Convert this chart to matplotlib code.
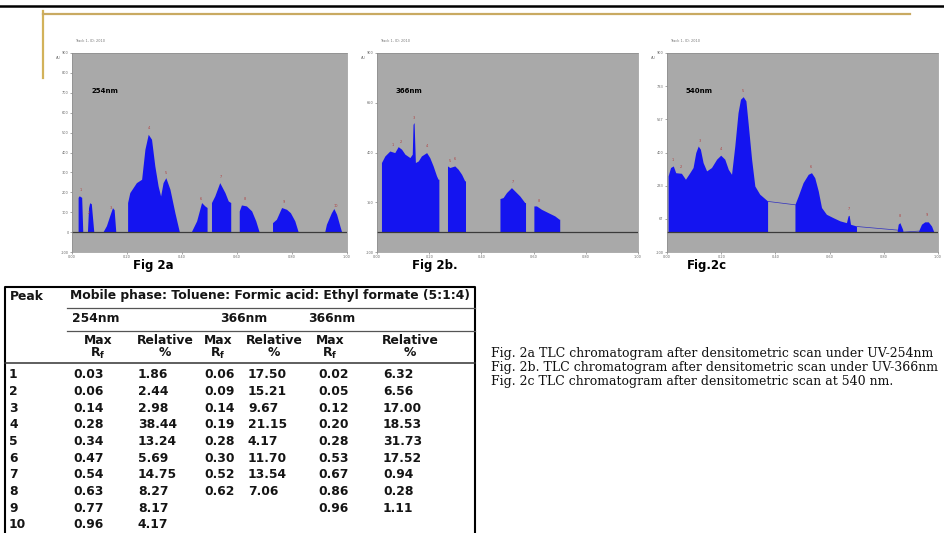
import numpy as np
import matplotlib.pyplot as plt

plt.rcParams['font.family'] = ['DejaVu Sans']
plt.rcParams['mathtext.fontset'] = 'dejavusans'

# densitogram outlines: (Rf, AU) points per peak area
scan_254 = [
    [(0.024, 0), (0.024, 172), (0.028, 180), (0.037, 172), (0.041, 0)],
    [(0.058, 0), (0.062, 120), (0.066, 145), (0.072, 140), (0.081, 0)],
    [(0.115, 0), (0.127, 30), (0.139, 80), (0.149, 120), (0.155, 110), (0.161, 0)],
    [(0.204, 0), (0.204, 146), (0.212, 196), (0.236, 246), (0.255, 263), (0.267, 414),
     (0.279, 489), (0.291, 464), (0.303, 330), (0.315, 229), (0.324, 179), (0.333, 246),
     (0.343, 271), (0.358, 213), (0.376, 95), (0.392, 0)],
    [(0.436, 0), (0.455, 54), (0.473, 146), (0.485, 129), (0.493, 121), (0.493, 0)],
    [(0.509, 0), (0.509, 146), (0.521, 179), (0.539, 246), (0.558, 196), (0.570, 154),
     (0.579, 146), (0.579, 0)],
    [(0.610, 0), (0.610, 104), (0.618, 134), (0.636, 129), (0.655, 104), (0.670, 54), (0.682, 0)],
    [(0.731, 0), (0.731, 45), (0.745, 62), (0.764, 121), (0.782, 112), (0.796, 95),
     (0.812, 54), (0.824, 0)],
    [(0.921, 0), (0.927, 37), (0.945, 95), (0.954, 116), (0.964, 87), (0.976, 28), (0.982, 0)],
]
scan_366 = [
    [(0.019, 0), (0.019, 347), (0.032, 380), (0.051, 405), (0.070, 397), (0.083, 427),
     (0.096, 414), (0.109, 389), (0.128, 372), (0.137, 389), (0.140, 539), (0.144, 548),
     (0.149, 347), (0.160, 355), (0.172, 380), (0.192, 397), (0.204, 372), (0.217, 330),
     (0.230, 280), (0.236, 263), (0.239, 263), (0.239, 0)],
    [(0.272, 0), (0.272, 330), (0.281, 322), (0.300, 330), (0.313, 313), (0.326, 288),
     (0.338, 255), (0.341, 255), (0.341, 0)],
    [(0.473, 0), (0.473, 166), (0.485, 171), (0.498, 196), (0.517, 221), (0.530, 204),
     (0.549, 179), (0.568, 146), (0.571, 146), (0.571, 0)],
    [(0.603, 0), (0.603, 129), (0.613, 129), (0.632, 112), (0.658, 95), (0.683, 79),
     (0.700, 62), (0.702, 62), (0.702, 0)],
]
scan_540 = [
    [(0.006, 0), (0.006, 280), (0.015, 322), (0.025, 330), (0.034, 296), (0.055, 293),
     (0.070, 263), (0.086, 296), (0.098, 322), (0.108, 397), (0.117, 430), (0.125, 414),
     (0.135, 347), (0.148, 305), (0.166, 322), (0.185, 364), (0.200, 384), (0.215, 364),
     (0.228, 313), (0.240, 288), (0.252, 430), (0.264, 598), (0.273, 665), (0.283, 678),
     (0.293, 657), (0.301, 548), (0.314, 364), (0.326, 229), (0.344, 188), (0.373, 154),
     (0.373, 0)],
    [(0.474, 0), (0.474, 137), (0.486, 179), (0.504, 246), (0.523, 288), (0.535, 296),
     (0.547, 271), (0.560, 204), (0.572, 121), (0.590, 87), (0.615, 70), (0.640, 54),
     (0.664, 45), (0.670, 79), (0.674, 82), (0.679, 37), (0.701, 28), (0.701, 0)],
    [(0.851, 0), (0.855, 37), (0.861, 45), (0.871, 12), (0.873, 0)],
    [(0.929, 0), (0.941, 37), (0.953, 49), (0.966, 49), (0.978, 28), (0.986, 0)],
]
trace_540 = [[(0.373, 154), (0.474, 137)], [(0.701, 28), (0.851, 10)], [(0.873, 0), (0.929, 5)]]

# table values
peak_no = ['1', '2', '3', '4', '5', '6', '7', '8', '9', '10']
rf_254 = [0.03, 0.06, 0.14, 0.28, 0.34, 0.47, 0.54, 0.63, 0.77, 0.96]
pct_254 = ['1.86', '2.44', '2.98', '38.44', '13.24', '5.69', '14.75', '8.27', '8.17', '4.17']
rf_366 = [0.06, 0.09, 0.14, 0.19, 0.28, 0.30, 0.52, 0.62]
pct_366 = ['17.50', '15.21', '9.67', '21.15', '4.17', '11.70', '13.54', '7.06']
rf_540 = [0.02, 0.05, 0.12, 0.20, 0.28, 0.53, 0.67, 0.86, 0.96]
pct_540 = ['6.32', '6.56', '17.00', '18.53', '31.73', '17.52', '0.94', '0.28', '1.11']

captions = ['Fig. 2a TLC chromatogram after densitometric scan under UV-254nm',
            'Fig. 2b. TLC chromatogram after densitometric scan under UV-366nm',
            'Fig. 2c TLC chromatogram after densitometric scan at 540 nm.']

W, H = 944, 533
fig = plt.figure(figsize=(W / 100, H / 100), dpi=100)


def px_axes(x0, y0, x1, y1):
    return fig.add_axes([x0 / W, 1 - y1 / H, (x1 - x0) / W, (y1 - y0) / H])


def top_at(segs, r):
    for s in segs:
        xs = [p[0] for p in s]
        ys = [p[1] for p in s]
        if xs[0] <= r <= xs[-1]:
            return np.interp(r, xs, ys)
    return 0


panels = [
    (72, 347, scan_254, rf_254, '254nm', [-100, 0, 100, 200, 300, 400, 500, 600, 700, 800, 900], 'Fig 2a', 153),
    (377, 638, scan_366, rf_366, '366nm', [-100, 150, 400, 650, 900], 'Fig 2b.', 435),
    (667, 938, scan_540, rf_540, '540nm', [-100, 67, 233, 400, 567, 733, 900], 'Fig.2c', 707),
]

for x0, x1, segs, rfs, nm, yt, flab, fx in panels:
    ax = px_axes(x0, 53, x1, 252)
    ax.set_facecolor('#a9a9a9')
    ax.set_xlim(0, 1)
    ax.set_ylim(-100, 900)
    for s in segs:
        xs, ys = zip(*s)
        ax.fill(xs, ys, color='#1414f0', lw=0)
    if nm == '540nm':
        for t in trace_540:
            xs, ys = zip(*t)
            ax.plot(xs, ys, color='#3030c0', lw=0.5)
    ax.axhline(0, color='#3a3a3a', lw=0.9)
    for i, r in enumerate(rfs):
        ax.text(r, top_at(segs, r) + 25, str(i + 1), fontsize=2.5, color='#b04040',
                ha='center', va='bottom')
    ax.set_xticks(np.arange(0, 1.01, 0.2))
    ax.set_xticklabels(['%.2f' % v for v in np.arange(0, 1.01, 0.2)])
    ax.set_yticks(yt)
    ax.set_yticklabels([str(v) for v in yt])
    ax.tick_params(labelsize=2.5, length=1.5, width=0.4, colors='#666666', pad=1)
    for sp in ax.spines.values():
        sp.set_color('#8c8c8c')
        sp.set_linewidth(0.5)
    ax.text(0.07, 0.81, nm, transform=ax.transAxes, fontsize=5, weight='bold', va='center')
    ax.text(0.01, 1.05, 'Track 1, ID: 2010', transform=ax.transAxes, fontsize=2.5,
            color='#777777', va='bottom')
    ax.text(-0.06, 0.97, 'AU', transform=ax.transAxes, fontsize=2.5, color='#777777')

# overlay in pixel coordinates
bg = px_axes(0, 0, W, H)
bg.set_xlim(0, W)
bg.set_ylim(H, 0)
bg.axis('off')
bg.set_zorder(10)

bg.plot([0, W], [6, 6], color='black', lw=1.8)
bg.plot([43, 43], [11, 78], color='#d2b25a', lw=1.6)
bg.plot([43, 910], [14, 14], color='#c9aa62', lw=1.6)

for x0, x1, segs, rfs, nm, yt, flab, fx in panels:
    bg.text(fx, 266, flab, fontsize=8.5, weight='bold', ha='center', va='center')

# table
tb = dict(fontsize=8.9, weight='bold', va='center', color='#151515')
bg.plot([5, 5, 475, 475], [540, 287, 287, 540], color='black', lw=1.5)
bg.plot([67, 475], [308, 308], color='#555555', lw=0.9)
bg.plot([67, 475], [331, 331], color='#555555', lw=0.9)
bg.plot([5, 475], [363, 363], color='#333333', lw=1.1)
bg.text(10, 296, 'Peak', ha='left', **tb)
bg.text(70, 296, 'Mobile phase: Toluene: Formic acid: Ethyl formate (5:1:4)', ha='left', **tb)
for cx, lab in [(96, '254nm'), (244, '366nm'), (332, '366nm')]:
    bg.text(cx, 318, lab, ha='center', **tb)
for cx in [98, 218, 330]:
    bg.text(cx, 340, 'Max', ha='center', **tb)
    bg.text(cx, 353, r'$\mathbf{R_f}$', ha='center', **tb)
for cx in [165, 274, 410]:
    bg.text(cx, 340, 'Relative', ha='center', **tb)
    bg.text(cx, 353, '%', ha='center', **tb)

cols = [(73, ['%.2f' % v for v in rf_254]), (138, pct_254),
        (204, ['%.2f' % v for v in rf_366]), (248, pct_366),
        (318, ['%.2f' % v for v in rf_540]), (383, pct_540)]
for i, p in enumerate(peak_no):
    y = 375 + i * 16.65
    bg.text(9, y, p, ha='left', **tb)
for cx, vals in cols:
    for i, v in enumerate(vals):
        bg.text(cx, 375 + i * 16.65, v, ha='left', **tb)

for i, c in enumerate(captions):
    bg.text(491, 353 + i * 14, c, family='DejaVu Serif', fontsize=9.0,
            ha='left', va='center', color='#111111')

fig.savefig('out.png', dpi=100)
